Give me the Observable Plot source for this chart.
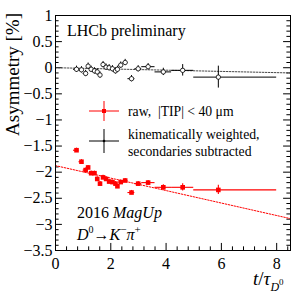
<!DOCTYPE html>
<html>
<head>
<meta charset="utf-8">
<script src="https://cdn.jsdelivr.net/npm/d3@7"></script>
<script src="https://cdn.jsdelivr.net/npm/@observablehq/plot@0.6"></script>
<style>
html,body{margin:0;padding:0;background:#fff;}
</style>
</head>
<body>
<div id="chart"></div>
<script>
// decay-time bins (t / tau_D0)
const tCenter = [0.76,0.94,1.09,1.18,1.29,1.41,1.51,1.61,1.72,1.83,1.94,2.06,2.17,2.24,2.36,2.52,2.75,2.99,3.35,3.9,4.6,5.89];
const tLow    = [0.65,0.85,1.0,1.13,1.24,1.35,1.46,1.56,1.67,1.78,1.89,2.0,2.12,2.2,2.29,2.44,2.62,2.87,3.12,3.6,4.2,5.0];
const tHigh   = [0.85,1.0,1.13,1.24,1.35,1.46,1.56,1.67,1.78,1.89,2.0,2.12,2.2,2.29,2.44,2.62,2.87,3.12,3.6,4.2,5.0,8.0];
// raw asymmetry, |TIP| < 40 um  [%]
const rawA   = [-1.58,-1.80,-1.96,-1.91,-2.02,-2.02,-2.13,-2.22,-2.10,-2.13,-2.18,-2.19,-2.22,-2.27,-2.19,-2.16,-2.39,-2.22,-2.20,-2.29,-2.29,-2.34];
const rawErr = [0.04,0.04,0.04,0.04,0.04,0.04,0.04,0.04,0.04,0.04,0.04,0.04,0.04,0.04,0.04,0.04,0.04,0.04,0.04,0.05,0.07,0.09];
// kinematically weighted, secondaries subtracted [%]
const kinA   = [-0.03,-0.04,-0.11,0.03,-0.03,-0.06,-0.08,-0.14,0.06,0.01,0.0,-0.02,-0.06,-0.03,0.05,0.10,-0.21,-0.02,0.02,-0.08,-0.05,-0.18];
const kinErr = [0.06,0.06,0.06,0.06,0.06,0.06,0.06,0.06,0.06,0.06,0.06,0.06,0.06,0.06,0.06,0.06,0.06,0.06,0.06,0.07,0.11,0.21];
// fitted lines (end points)
const fitT    = [0, 8.5];
const fitRaw  = [-1.875, -2.89];
const fitKin  = [0.0, -0.10];
// axis ticks
const xMajor = [0,2,4,6,8];
const yMajor = [1,0.5,0,-0.5,-1,-1.5,-2,-2.5,-3,-3.5];

const raw = tCenter.map((t,i)=>({t, lo:tLow[i], hi:tHigh[i], a:rawA[i], e:rawErr[i]}));
const kin = tCenter.map((t,i)=>({t, lo:tLow[i], hi:tHigh[i], a:kinA[i], e:kinErr[i]}));
const rawFit = fitT.map((t,i)=>({t, a:fitRaw[i]}));
const kinFit = fitT.map((t,i)=>({t, a:fitKin[i]}));

const xMinor = d3.range(0, 8.5001, 0.4).filter(v=>!xMajor.some(m=>Math.abs(m-v)<1e-6));
const yMinor = d3.range(-3.5, 1.0001, 0.1).map(v=>Math.round(v*10)/10).filter(v=>!yMajor.some(m=>Math.abs(m-v)<1e-6));

const X0=0, X1=8.5, Y0=-3.5, Y1=1;
const fmt = d => (d<0?"\u2212":"") + Math.abs(d);
const RED = "#ff0000";

const plot = Plot.plot({
  width: 306, height: 293,
  marginLeft: 55, marginRight: 16, marginTop: 15, marginBottom: 43,
  style: {fontFamily: "'Liberation Serif', 'DejaVu Serif', serif", background: "#fff", color: "#000"},
  x: {domain:[X0,X1]},
  y: {domain:[Y0,Y1]},
  marks: [
    // tick marks (inside frame, both sides)
    Plot.ruleY(yMajor, {y: d=>d, x1: X0, x2: X0+0.25, stroke:"#000", strokeWidth:1}),
    Plot.ruleY(yMajor, {y: d=>d, x1: X1-0.25, x2: X1, stroke:"#000", strokeWidth:1}),
    Plot.ruleY(yMinor, {y: d=>d, x1: X0, x2: X0+0.13, stroke:"#000", strokeWidth:1}),
    Plot.ruleY(yMinor, {y: d=>d, x1: X1-0.13, x2: X1, stroke:"#000", strokeWidth:1}),
    Plot.ruleX(xMajor, {x: d=>d, y1: Y0, y2: Y0+0.135, stroke:"#000", strokeWidth:1}),
    Plot.ruleX(xMinor, {x: d=>d, y1: Y0, y2: Y0+0.07, stroke:"#000", strokeWidth:1}),
    Plot.axisY(yMajor, {tickSize:0, tickPadding:3, fontSize:16, tickFormat: fmt, label:null}),
    Plot.axisX(xMajor, {tickSize:0, tickPadding:7, fontSize:16, tickFormat: fmt, label:null}),
    // fit lines
    Plot.line(kinFit, {x:"t", y:"a", stroke:"#444", strokeWidth:1, strokeDasharray:"1.5,1.5"}),
    Plot.line(rawFit, {x:"t", y:"a", stroke:RED, strokeWidth:1, strokeDasharray:"1.5,1.5"}),
    // raw series
    Plot.ruleY(raw, {y:"a", x1:"lo", x2:"hi", stroke:RED, strokeWidth:1.1}),
    Plot.ruleX(raw, {x:"t", y1:d=>d.a-d.e, y2:d=>d.a+d.e, stroke:RED, strokeWidth:1.1}),
    Plot.dot(raw, {x:"t", y:"a", symbol:"square", r:2.6, fill:RED, stroke:"none"}),
    // kinematically weighted series
    Plot.ruleY(kin, {y:"a", x1:"lo", x2:"hi", stroke:"#000", strokeWidth:1}),
    Plot.ruleX(kin, {x:"t", y1:d=>d.a-d.e, y2:d=>d.a+d.e, stroke:"#000", strokeWidth:1}),
    Plot.dot(kin, {x:"t", y:"a", r:2.2, fill:"#fff", stroke:"#000", strokeWidth:0.8}),
    Plot.frame({stroke:"#000", strokeWidth:1})
  ]
});
document.getElementById("chart").appendChild(plot);

const svg = d3.select(plot);
const font = "'Liberation Serif', 'DejaVu Serif', serif";
const g = svg.append("g").attr("font-family", font).attr("fill","#000").attr("text-anchor","start");

// y-axis title
g.append("text").attr("transform","translate(19,13) rotate(-90)")
  .attr("text-anchor","end").attr("font-size",19).text("Asymmetry [%]");
// x-axis title t/tau_D0
const xt = g.append("text").attr("x",253).attr("y",285).attr("font-size",19);
xt.append("tspan").attr("font-style","italic").text("t");
xt.append("tspan").text("/");
xt.append("tspan").attr("font-style","italic").text("\u03c4");
xt.append("tspan").attr("font-style","italic").attr("font-size",12).attr("dy",6).text("D");
xt.append("tspan").attr("font-size",9).attr("dy",-6).text("0");

// annotations
g.append("text").attr("x",67).attr("y",36).attr("font-size",16).text("LHCb preliminary");
const t2016 = g.append("text").attr("x",77).attr("y",218).attr("font-size",16);
t2016.append("tspan").text("2016 ");
t2016.append("tspan").attr("font-style","italic").text("MagUp");
const dec = g.append("text").attr("x",77).attr("y",240).attr("font-size",16);
dec.append("tspan").attr("font-style","italic").text("D");
dec.append("tspan").attr("font-size",10).attr("dy",-7).text("0");
dec.append("tspan").attr("dy",7).text("\u2192");
dec.append("tspan").attr("font-style","italic").text("K");
dec.append("tspan").attr("font-size",11).attr("dy",-7).text("\u2212");
dec.append("tspan").attr("dy",7).attr("font-style","italic").text("\u03c0");
dec.append("tspan").attr("font-size",11).attr("dy",-7).text("+");

// legend
const lg = svg.append("g");
// raw entry
lg.append("line").attr("x1",89).attr("x2",119).attr("y1",111).attr("y2",111).attr("stroke",RED);
lg.append("line").attr("x1",104).attr("x2",104).attr("y1",101).attr("y2",121).attr("stroke",RED);
lg.append("rect").attr("x",102).attr("y",109).attr("width",4).attr("height",4).attr("fill",RED);
// kin entry
lg.append("line").attr("x1",89).attr("x2",119).attr("y1",141).attr("y2",141).attr("stroke","#000");
lg.append("line").attr("x1",104).attr("x2",104).attr("y1",129).attr("y2",153).attr("stroke","#000");
lg.append("circle").attr("cx",104).attr("cy",141).attr("r",1.3).attr("fill","#000");
const lt = lg.append("g").attr("font-family",font).attr("font-size",13.7).attr("fill","#000").attr("text-anchor","start");
lt.append("text").attr("x",128).attr("y",116).text("raw,  |TIP| < 40 \u03bcm");
lt.append("text").attr("x",128).attr("y",139).text("kinematically weighted,");
lt.append("text").attr("x",128).attr("y",156).text("secondaries subtracted");
</script>
</body>
</html>
